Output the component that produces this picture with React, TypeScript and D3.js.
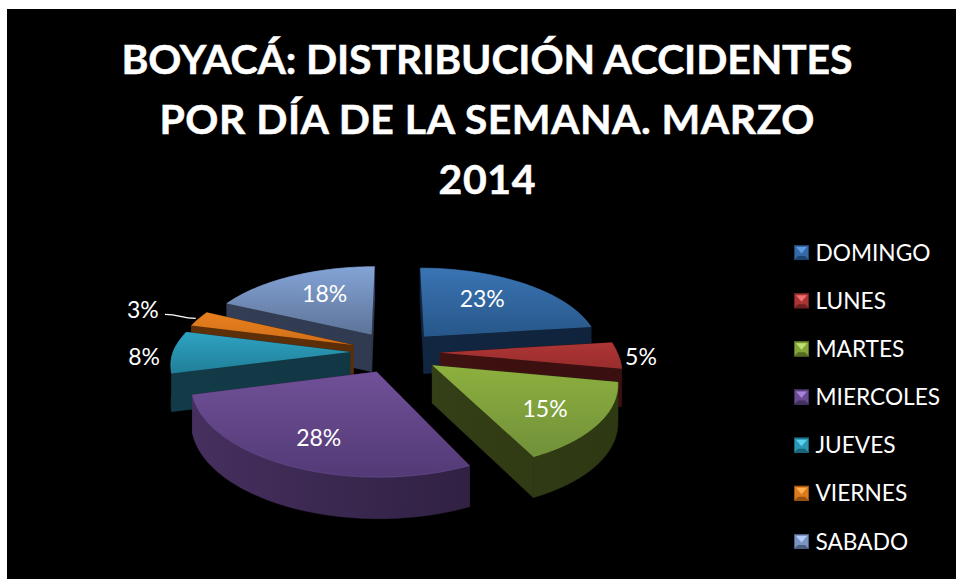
import React from "react";
import * as d3 from "d3";

// ---- data ----
const categories = ["DOMINGO", "LUNES", "MARTES", "MIERCOLES", "JUEVES", "VIERNES", "SABADO"];
const percentages = [23, 5, 15, 28, 8, 3, 18];
const titleLines = ["BOYACÁ: DISTRIBUCIÓN ACCIDENTES", "POR DÍA DE LA SEMANA. MARZO", "2014"];
const titleWidths = [731, 655, 97];
const topLight = ["#3A74B4", "#AE3535", "#8DB03E", "#705098", "#2FA3C2", "#E8801F", "#83A3D6"];
const topDark = ["#275789", "#992D2D", "#71903A", "#533A76", "#207F98", "#D06E18", "#5E7498"];
const wallLight = ["#132A48", "#481414", "#3C4A1C", "#46305F", "#133A47", "#5E3008", "#343F57"];
const wallDark = ["#10233C", "#3A0F0F", "#2E3813", "#261A36", "#103340", "#562A08", "#2A3346"];
const legendLight = ["#5E9BE0", "#F07070", "#BCE070", "#A884D8", "#58D0EE", "#FFAE50", "#B4CCF4"];
const legendMid = ["#3469A6", "#A83434", "#84A53A", "#6A4A92", "#2C97B4", "#DC7A1E", "#7A93C0"];
const legendDark = ["#1E4470", "#6E2020", "#566C24", "#42305E", "#1B6478", "#96500F", "#4C5E80"];
// painter's order, back to front
const drawOrder = [0, 6, 5, 1, 4, 2, 3];
// data label placement: radial distance and angular shift (degrees) from the slice's mid-angle
const labelRadius = [0.91, 1.38, 0.97, 0.975, 1.41, 1.64, 0.905];
const labelShift = [-4.5, 0, 1.5, -1, -2, 0, 3];

// ---- layout ----
const W = 956, H = 579;
const cx = 395, cy = 352, Rx = 177, Ry = 83, persp = 0.15, explode = 0.254, depth = 37.5, skew = 6;
const FONT = "Lato, Carlito, 'Open Sans', sans-serif";

const rad = d3.scaleLinear().domain([0, 360]).range([0, 2 * Math.PI]);
const pie = d3.pie<number>().sort(null).startAngle(0).endAngle(2 * Math.PI);
const arcs = pie(percentages);

type P = [number, number];
function project(gx: number, gy: number, z = 0): P {
  const s = 1 / (1 - persp * gy);
  return [cx + Rx * gx * s + skew * Math.max(gy, 0), cy + Ry * gy * s + z * depth * Math.sqrt(s)];
}
function slicePoint(mid: number, a: number, r: number, z = 0): P {
  const ox = Math.sin(mid) * explode, oy = -Math.cos(mid) * explode;
  return project(ox + Math.sin(a) * r, oy - Math.cos(a) * r, z);
}
const line = d3.line<P>();
const poly = (pts: P[]) => line(pts) + "Z";
const curve = d3.line<P>().curve(d3.curveBumpX);

function Slice({ i }: { i: number }) {
  const { startAngle: a0, endAngle: a1 } = arcs[i];
  const mid = (a0 + a1) / 2;
  const steps = d3.range(0, 61).map((k) => a0 + ((a1 - a0) * k) / 60);
  const apex = slicePoint(mid, 0, 0);
  const apexB = slicePoint(mid, 0, 0, 1);
  const rim = steps.map((a) => slicePoint(mid, a, 1));
  const rimB = steps.map((a) => slicePoint(mid, a, 1, 1));
  const walls: { d: string; y: number }[] = [
    { d: poly([apex, rim[0], rimB[0], apexB]), y: (apex[1] + rim[0][1]) / 2 },
    { d: poly([apex, rim[60], rimB[60], apexB]), y: (apex[1] + rim[60][1]) / 2 },
    { d: poly([...rim, ...rimB.slice().reverse()]), y: d3.mean(rim, (p) => p[1])! },
  ].sort((a, b) => a.y - b.y);
  return (
    <g>
      {walls.map((w, k) => (
        <path key={k} d={w.d} fill={`url(#wall${i})`} stroke={`url(#wall${i})`} strokeWidth={0.5} />
      ))}
      <path d={poly([apex, ...rim])} fill={`url(#top${i})`} />
      <path d={line(rim)!} fill="none" stroke={topLight[i]} strokeWidth={1} opacity={0.6} />
    </g>
  );
}

function LegendKey({ i, x, y }: { i: number; x: number; y: number }) {
  const s = 15, b = 4;
  const c: P = [x + s / 2, y + s / 2 + 1];
  return (
    <g>
      <rect x={x} y={y} width={s} height={s} fill={legendMid[i]} />
      <path d={poly([[x + 2, y + 2], [x + s - 2, y + 2], c])} fill={legendLight[i]} />
      <path d={poly([[x, y + s], [x + s, y + s], [x + s - b, y + s - b], [x + b, y + s - b]])} fill={legendDark[i]} />
      <rect x={x + 0.5} y={y + 0.5} width={s - 1} height={s - 1} fill="none" stroke={legendDark[i]} strokeWidth={1} />
    </g>
  );
}

export default function App() {
  const legendY = d3.scalePoint<string>().domain(categories).range([252, 541]);
  const labels = arcs.map((d, i) => {
    const a = (d.startAngle + d.endAngle) / 2 + rad(labelShift[i]);
    return project(Math.sin(a) * labelRadius[i], -Math.cos(a) * labelRadius[i]);
  });
  const vIdx = categories.indexOf("VIERNES");
  const vMid = (arcs[vIdx].startAngle + arcs[vIdx].endAngle) / 2;
  const leaderEnd = slicePoint(vMid, vMid, 1.02);
  const leaderStart: P = [labels[vIdx][0] + 22, labels[vIdx][1] + 5];
  return (
    <svg width={W} height={H} style={{ position: "absolute", left: 0, top: 0, background: "#fff" }}>
      <defs>
        {categories.map((_, i) => (
          <React.Fragment key={i}>
            <linearGradient id={`top${i}`} x1="0" y1="0" x2="0" y2="1">
              <stop offset="0" stopColor={topLight[i]} />
              <stop offset="1" stopColor={topDark[i]} />
            </linearGradient>
            <linearGradient id={`wall${i}`} gradientUnits="userSpaceOnUse" x1={cx - 210} x2={cx + 210} y1="0" y2="0">
              <stop offset="0" stopColor={wallLight[i]} />
              <stop offset="1" stopColor={wallDark[i]} />
            </linearGradient>
          </React.Fragment>
        ))}
      </defs>
      <rect x={7} y={9} width={W - 7} height={H - 9} fill="#000" />
      {titleLines.map((t, i) => (
        <text key={t} x={487} y={74 + i * 60} textAnchor="middle" textLength={titleWidths[i]} lengthAdjust="spacing" fontFamily={FONT} fontWeight={700} fontSize={41} fill="#fff" stroke="#fff" strokeWidth={0.5}>
          {t}
        </text>
      ))}
      {drawOrder.map((i) => (
        <Slice key={i} i={i} />
      ))}
      <path d={curve([leaderStart, leaderEnd])!} fill="none" stroke="#fff" strokeWidth={1.3} />
      {percentages.map((v, i) => (
        <text key={i} x={labels[i][0]} y={labels[i][1]} textAnchor="middle" dominantBaseline="central" fontFamily={FONT} fontSize={23} fill="#fff">
          {v}%
        </text>
      ))}
      {categories.map((c, i) => {
        const y = legendY(c)!;
        return (
          <g key={c}>
            <LegendKey i={i} x={794} y={y - 7} />
            <text x={815.5} y={y} dominantBaseline="central" fontFamily={FONT} fontSize={22.7} fill="#fff">
              {c}
            </text>
          </g>
        );
      })}
    </svg>
  );
}
